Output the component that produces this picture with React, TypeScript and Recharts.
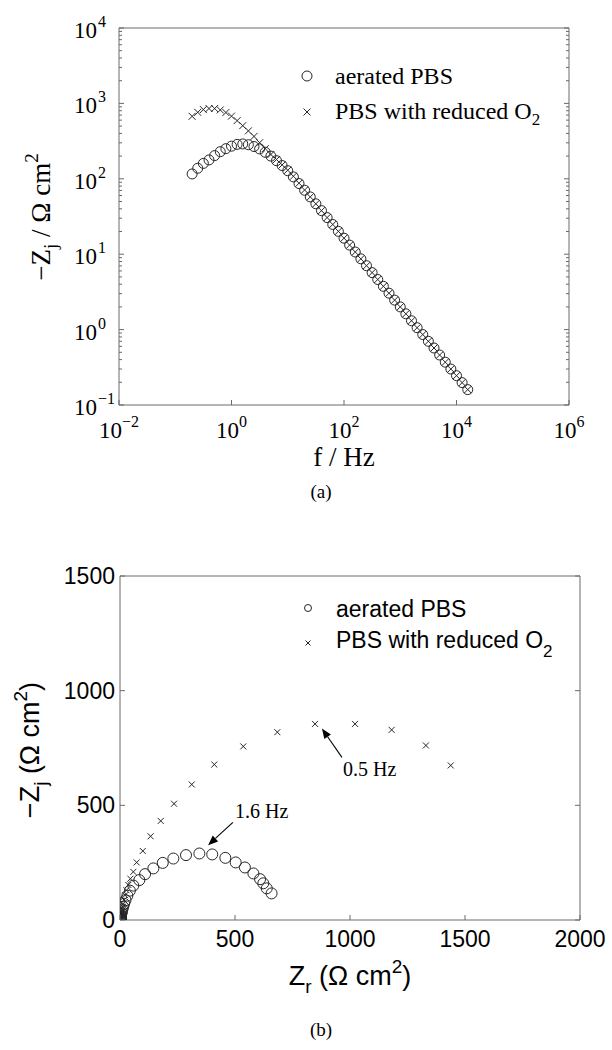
import React from 'react';
import { ScatterChart, Scatter, XAxis, YAxis, ReferenceLine, ReferenceDot } from 'recharts';

// ---------- data ----------
// measurement frequencies, Hz (low -> high)
const freqHz = [
  0.1995, 0.2512, 0.3162, 0.3981, 0.5012, 0.631, 0.7943, 1.0, 1.259, 1.585,
  1.995, 2.512, 3.162, 3.981, 5.012, 6.31, 7.943, 10, 12.59, 15.85,
  19.95, 25.12, 31.62, 39.81, 50.12, 63.1, 79.43, 100, 125.9, 158.5,
  199.5, 251.2, 316.2, 398.1, 501.2, 631, 794.3, 1000, 1259, 1585,
  1995, 2512, 3162, 3981, 5012, 6310, 7943, 10000, 12589, 15849,
];

// -Zj (ohm cm^2), aerated PBS
const aeratedNegZj = [
  116, 138, 160, 178, 203, 229, 251, 271, 286, 290,
  283, 268, 249, 225, 200, 174, 150, 128, 106, 86.5,
  70.5, 57.5, 46.6, 37.8, 30.6, 24.8, 20.1, 16.3, 13.2, 10.7,
  8.68, 7.04, 5.7, 4.62, 3.75, 3.04, 2.46, 2.0, 1.62, 1.31,
  1.06, 0.86, 0.7, 0.57, 0.46, 0.37, 0.3, 0.245, 0.198, 0.16,
];

// -Zj (ohm cm^2), PBS with reduced O2
const reducedNegZj = [
  674, 761, 829, 855, 855, 819, 757, 678, 591, 507,
  432, 365, 301, 251, 210, 180, 153, 130, 108, 87.5,
  71, 57.5, 46.6, 37.8, 30.6, 24.8, 20.1, 16.3, 13.2, 10.7,
  8.68, 7.04, 5.7, 4.62, 3.75, 3.04, 2.46, 2.0, 1.62, 1.31,
  1.06, 0.86, 0.7, 0.57, 0.46, 0.37, 0.3, 0.245, 0.198, 0.16,
];

// Zr (ohm cm^2), aerated PBS
const aeratedZr = [
  659, 638, 623, 609, 580, 543, 503, 458, 401, 345,
  287, 232, 186, 145, 109, 84, 58, 43, 32, 24,
  18, 13.5, 10.5, 8.2, 6.6, 5.3, 4.4, 3.7, 3.1, 2.7,
  2.4, 2.1, 1.9, 1.8, 1.7, 1.6, 1.5, 1.45, 1.4, 1.35,
  1.3, 1.3, 1.25, 1.25, 1.2, 1.2, 1.2, 1.2, 1.2, 1.2,
];

// Zr (ohm cm^2), PBS with reduced O2
const reducedZr = [
  1438, 1330, 1181, 1022, 848, 684, 536, 410, 312, 235,
  177, 133, 99, 72.5, 58, 45, 36, 28, 22, 17,
  13.5, 11, 9, 7.5, 6.2, 5.2, 4.4, 3.7, 3.1, 2.7,
  2.4, 2.1, 1.9, 1.8, 1.7, 1.6, 1.5, 1.45, 1.4, 1.35,
  1.3, 1.3, 1.25, 1.25, 1.2, 1.2, 1.2, 1.2, 1.2, 1.2,
];

const seriesLabels = ['aerated PBS', 'PBS with reduced O'];
const freqTicks = [0.01, 1, 100, 10000, 1000000];
const negZjDecades = [0.1, 1, 10, 100, 1000, 10000];
const nyqZrTicks = [0, 500, 1000, 1500, 2000];
const nyqZjTicks = [0, 500, 1000, 1500];

// arrow annotations in the Nyquist plot (data coordinates)
const annotationLabels = ['1.6 Hz', '0.5 Hz'];
const annotationText = [
  { x: 500, y: 443 },
  { x: 970, y: 626 },
];
const annotationArrows = [
  [{ x: 491, y: 426 }, { x: 383, y: 326 }],
  [{ x: 965, y: 709 }, { x: 878, y: 835 }],
];

// ---------- derived tables ----------
const negZjTicks = [
  ...negZjDecades,
  ...negZjDecades.slice(0, -1).flatMap((d) => [2, 3, 4, 5, 6, 7, 8, 9].map((m) => Number((d * m).toPrecision(3)))),
].sort((a, b) => a - b);

const bodeAerated = freqHz.map((f, i) => ({ f, zj: aeratedNegZj[i] }));
const bodeReduced = freqHz.map((f, i) => ({ f, zj: reducedNegZj[i] }));
const nyqAerated = aeratedZr.map((zr, i) => ({ zr, zj: aeratedNegZj[i] }));
const nyqReduced = reducedZr.map((zr, i) => ({ zr, zj: reducedNegZj[i] }));

// ---------- styles ----------
const SERIF = '"Liberation Serif", "Times New Roman", Times, serif';
const SANS = '"Liberation Sans", Arial, Helvetica, sans-serif';
const AXIS = '#6a6a6a';
const MARK = '#262626';

const isDecade = (v: number) => Math.abs(Math.log10(v) - Math.round(Math.log10(v))) < 1e-6;
const expLabel = (v: number) => {
  const e = Math.round(Math.log10(v));
  return e < 0 ? `\u2212${-e}` : `${e}`;
};

// ---------- tick renderers ----------
const FreqBottomTick = (p: any) => (
  <g>
    <line x1={p.x} y1={p.y} x2={p.x} y2={p.y - 5} stroke={AXIS} />
    <text x={p.x} y={p.y + 33} textAnchor="middle" fontFamily={SERIF} fontSize={23} fill="#000">
      10<tspan dy={-11} fontSize={16}>{expLabel(p.payload.value)}</tspan>
    </text>
  </g>
);
const FreqTopTick = (p: any) => <line x1={p.x} y1={p.y} x2={p.x} y2={p.y + 5} stroke={AXIS} />;

const ZjLeftTick = (p: any) => {
  const major = isDecade(p.payload.value);
  return (
    <g>
      <line x1={p.x} y1={p.y} x2={p.x + (major ? 5 : 3)} y2={p.y} stroke={AXIS} />
      {major && (
        <>
          <text x={p.x - 22} y={p.y + 10} textAnchor="end" fontFamily={SERIF} fontSize={23} fill="#000">
            10
          </text>
          <text x={p.x - 21} y={p.y - 1} textAnchor="start" fontFamily={SERIF} fontSize={16} fill="#000">
            {expLabel(p.payload.value)}
          </text>
        </>
      )}
    </g>
  );
};
const ZjRightTick = (p: any) => {
  const major = isDecade(p.payload.value);
  return <line x1={p.x} y1={p.y} x2={p.x - (major ? 5 : 3)} y2={p.y} stroke={AXIS} />;
};

const NyqBottomTick = (p: any) => (
  <g>
    <line x1={p.x} y1={p.y} x2={p.x} y2={p.y - 5} stroke={AXIS} />
    <text x={p.x} y={p.y + 27} textAnchor="middle" fontFamily={SANS} fontSize={23} fill="#000">
      {p.payload.value}
    </text>
  </g>
);
const NyqTopTick = (p: any) => <line x1={p.x} y1={p.y} x2={p.x} y2={p.y + 5} stroke={AXIS} />;
const NyqLeftTick = (p: any) => (
  <g>
    <line x1={p.x} y1={p.y} x2={p.x + 5} y2={p.y} stroke={AXIS} />
    <text x={p.x - 5} y={p.y + 8} textAnchor="end" fontFamily={SANS} fontSize={23} fill="#000">
      {p.payload.value}
    </text>
  </g>
);
const NyqRightTick = (p: any) => <line x1={p.x} y1={p.y} x2={p.x - 5} y2={p.y} stroke={AXIS} />;

// ---------- marker shapes ----------
const circleShape = (r: number) => (p: any) => (
  <circle cx={p.cx} cy={p.cy} r={r} fill="none" stroke={MARK} strokeWidth={1} />
);
const crossShape = (s: number) => (p: any) => (
  <path
    d={`M${p.cx - s},${p.cy - s}L${p.cx + s},${p.cy + s}M${p.cx - s},${p.cy + s}L${p.cx + s},${p.cy - s}`}
    stroke={MARK}
    strokeWidth={1}
    fill="none"
  />
);

const ArrowShape = (p: any) => {
  const { x1, y1, x2, y2 } = p;
  const dx = x2 - x1;
  const dy = y2 - y1;
  const len = Math.sqrt(dx * dx + dy * dy) || 1;
  const ux = dx / len;
  const uy = dy / len;
  const hl = 10;
  const hw = 4;
  const bx = x2 - ux * hl;
  const by = y2 - uy * hl;
  return (
    <g>
      <line x1={x1} y1={y1} x2={bx} y2={by} stroke="#000" strokeWidth={1.1} />
      <polygon
        points={`${x2},${y2} ${bx - uy * hw},${by + ux * hw} ${bx + uy * hw},${by - ux * hw}`}
        fill="#000"
      />
    </g>
  );
};

const textShape = (label: string) => (p: any) => (
  <text x={p.cx} y={p.cy} fontFamily={SERIF} fontSize={20} fill="#000">
    {label}
  </text>
);

// ---------- charts ----------
function BodeChart() {
  return (
    <ScatterChart width={612} height={560} margin={{ top: 28, right: 43, bottom: 95, left: 59 }}>
      <XAxis
        xAxisId="b"
        dataKey="f"
        type="number"
        scale="log"
        domain={[0.01, 1000000]}
        allowDataOverflow
        ticks={freqTicks}
        interval={0}
        height={60}
        tickSize={0}
        tickMargin={0}
        tickLine={false}
        axisLine={{ stroke: AXIS }}
        tick={FreqBottomTick}
      />
      <XAxis
        xAxisId="t"
        orientation="top"
        mirror
        type="number"
        scale="log"
        domain={[0.01, 1000000]}
        allowDataOverflow
        ticks={freqTicks}
        interval={0}
        tickSize={0}
        tickMargin={0}
        tickLine={false}
        axisLine={{ stroke: AXIS }}
        tick={FreqTopTick}
      />
      <YAxis
        yAxisId="l"
        dataKey="zj"
        type="number"
        scale="log"
        domain={[0.1, 10000]}
        allowDataOverflow
        ticks={negZjTicks}
        interval={0}
        width={60}
        tickSize={0}
        tickMargin={0}
        tickLine={false}
        axisLine={{ stroke: AXIS }}
        tick={ZjLeftTick}
      />
      <YAxis
        yAxisId="r"
        orientation="right"
        mirror
        type="number"
        scale="log"
        domain={[0.1, 10000]}
        allowDataOverflow
        ticks={negZjTicks}
        interval={0}
        tickSize={0}
        tickMargin={0}
        tickLine={false}
        axisLine={{ stroke: AXIS }}
        tick={ZjRightTick}
      />
      <Scatter name={seriesLabels[1]} xAxisId="b" yAxisId="l" data={bodeReduced} shape={crossShape(3.5)} isAnimationActive={false} />
      <Scatter name={seriesLabels[0]} xAxisId="b" yAxisId="l" data={bodeAerated} shape={circleShape(5)} isAnimationActive={false} />
    </ScatterChart>
  );
}

function NyquistChart() {
  return (
    <ScatterChart width={612} height={490} margin={{ top: 16, right: 32, bottom: 70, left: 60 }}>
      <XAxis
        xAxisId="b"
        dataKey="zr"
        type="number"
        domain={[0, 2000]}
        allowDataOverflow
        ticks={nyqZrTicks}
        interval={0}
        height={60}
        tickSize={0}
        tickMargin={0}
        tickLine={false}
        axisLine={{ stroke: AXIS }}
        tick={NyqBottomTick}
      />
      <XAxis
        xAxisId="t"
        orientation="top"
        mirror
        type="number"
        domain={[0, 2000]}
        allowDataOverflow
        ticks={nyqZrTicks}
        interval={0}
        tickSize={0}
        tickMargin={0}
        tickLine={false}
        axisLine={{ stroke: AXIS }}
        tick={NyqTopTick}
      />
      <YAxis
        yAxisId="l"
        dataKey="zj"
        type="number"
        domain={[0, 1500]}
        allowDataOverflow
        ticks={nyqZjTicks}
        interval={0}
        width={60}
        tickSize={0}
        tickMargin={0}
        tickLine={false}
        axisLine={{ stroke: AXIS }}
        tick={NyqLeftTick}
      />
      <YAxis
        yAxisId="r"
        orientation="right"
        mirror
        type="number"
        domain={[0, 1500]}
        allowDataOverflow
        ticks={nyqZjTicks}
        interval={0}
        tickSize={0}
        tickMargin={0}
        tickLine={false}
        axisLine={{ stroke: AXIS }}
        tick={NyqRightTick}
      />
      <Scatter name={seriesLabels[1]} xAxisId="b" yAxisId="l" data={nyqReduced} shape={crossShape(3)} isAnimationActive={false} />
      <Scatter name={seriesLabels[0]} xAxisId="b" yAxisId="l" data={nyqAerated} shape={circleShape(5.5)} isAnimationActive={false} />
      {annotationArrows.map((seg, i) => (
        <ReferenceLine
          key={`arrow-${i}`}
          xAxisId="b"
          yAxisId="l"
          segment={seg}
          ifOverflow="visible"
          shape={ArrowShape}
        />
      ))}
      {annotationText.map((pt, i) => (
        <ReferenceDot
          key={`note-${i}`}
          xAxisId="b"
          yAxisId="l"
          x={pt.x}
          y={pt.y}
          r={0}
          ifOverflow="visible"
          shape={textShape(annotationLabels[i])}
        />
      ))}
    </ScatterChart>
  );
}

function Overlay() {
  return (
    <svg width={612} height={1050} style={{ position: 'absolute', left: 0, top: 0, pointerEvents: 'none' }}>
      {/* ----- panel (a) ----- */}
      <text
        x={50}
        y={217}
        transform="rotate(-90 50 217)"
        textAnchor="middle"
        fontFamily={SERIF}
        fontSize={27}
        fill="#000"
      >
        {'\u2212Z'}
        <tspan dy={7} fontSize={19}>j</tspan>
        <tspan dy={-7}>{' / \u03A9 cm'}</tspan>
        <tspan dy={-12} fontSize={19}>2</tspan>
      </text>
      <text x={344} y={466} textAnchor="middle" fontFamily={SERIF} fontSize={27} fill="#000">
        f / Hz
      </text>
      <text x={321} y={498} textAnchor="middle" fontFamily={SERIF} fontSize={19} fill="#000">
        (a)
      </text>
      <circle cx={307} cy={76} r={5} fill="none" stroke={MARK} strokeWidth={1} />
      <text x={335} y={84} fontFamily={SERIF} fontSize={24} fill="#000">
        {seriesLabels[0]}
      </text>
      <path d="M303.5,108.5L310.5,115.5M303.5,115.5L310.5,108.5" stroke={MARK} strokeWidth={1} />
      <text x={335} y={119} fontFamily={SERIF} fontSize={24} fill="#000">
        {seriesLabels[1]}
        <tspan dy={6} fontSize={17}>2</tspan>
      </text>

      {/* ----- panel (b) ----- */}
      <text
        x={39}
        y={750}
        transform="rotate(-90 39 750)"
        textAnchor="middle"
        fontFamily={SANS}
        fontSize={27}
        fill="#000"
      >
        {'\u2212Z'}
        <tspan dy={8} fontSize={19}>j</tspan>
        <tspan dy={-8}>{' (\u03A9 cm'}</tspan>
        <tspan dy={-12} fontSize={19}>2</tspan>
        <tspan dy={12}>)</tspan>
      </text>
      <text x={350} y={985} textAnchor="middle" fontFamily={SANS} fontSize={27} fill="#000">
        Z<tspan dy={8} fontSize={19}>r</tspan>
        <tspan dy={-8}>{' (\u03A9 cm'}</tspan>
        <tspan dy={-12} fontSize={19}>2</tspan>
        <tspan dy={12}>)</tspan>
      </text>
      <text x={321} y={1036} textAnchor="middle" fontFamily={SERIF} fontSize={19} fill="#000">
        (b)
      </text>
      <circle cx={308} cy={608} r={3.5} fill="none" stroke={MARK} strokeWidth={1} />
      <text x={336} y={617} fontFamily={SANS} fontSize={23} fill="#000">
        {seriesLabels[0]}
      </text>
      <path d="M305.5,640.5L310.5,645.5M305.5,645.5L310.5,640.5" stroke={MARK} strokeWidth={1} />
      <text x={336} y={648} fontFamily={SANS} fontSize={23} fill="#000">
        {seriesLabels[1]}
        <tspan dy={9} fontSize={17}>2</tspan>
      </text>
    </svg>
  );
}

export default function App() {
  return (
    <div style={{ position: 'absolute', left: 0, top: 0, width: 612, height: 1050, background: '#fff', overflow: 'hidden' }}>
      <div style={{ position: 'absolute', left: 0, top: 0 }}>
        <BodeChart />
      </div>
      <div style={{ position: 'absolute', left: 0, top: 560 }}>
        <NyquistChart />
      </div>
      <Overlay />
    </div>
  );
}
